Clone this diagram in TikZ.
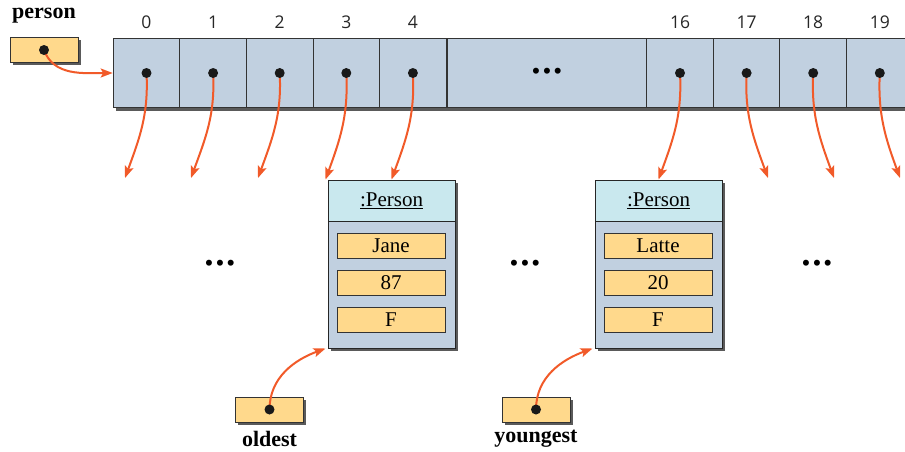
\documentclass[tikz,border=0pt]{standalone}
\usepackage{fontspec}
\setmainfont{Liberation Serif}
\newfontfamily\idxfont{Open Sans}
\newfontfamily\dotfont{DejaVu Sans}
\usetikzlibrary{arrows.meta,shadows}

\definecolor{slotblue}{HTML}{C1D0E0}
\definecolor{headcyan}{HTML}{C9E8EE}
\definecolor{fieldorange}{HTML}{FFD98C}
\definecolor{ptrred}{HTML}{F15A29}
\definecolor{shadegrey}{HTML}{5A5A5A}

\begin{document}
\begin{tikzpicture}[x=1pt,y=-1pt,
  cell/.style={draw=black!80,fill=slotblue,line width=1pt,minimum width=66.6pt,minimum height=69pt,inner sep=0pt},
  idx/.style={font=\idxfont\fontsize{17.5}{20}\selectfont,text=black!85},
  ptr/.style={draw=ptrred,line width=2pt,-{Stealth[length=12pt,width=9pt,inset=2.5pt]}},
  shade/.style={general shadow={fill=shadegrey,shadow xshift=2.5pt,shadow yshift=-2.5pt}},
  objbody/.style={draw=black!85,fill=slotblue,line width=1pt,minimum width=127pt,minimum height=168pt,inner sep=0pt,shade},
  objhead/.style={draw=black!85,fill=headcyan,line width=1pt,minimum width=127pt,minimum height=41pt,inner sep=0pt,font=\fontsize{21}{24}\selectfont},
  field/.style={draw=black!80,fill=fieldorange,line width=1pt,minimum width=108pt,minimum height=25pt,inner sep=0pt,font=\fontsize{21}{24}\selectfont},
  refbox/.style={draw=black!80,fill=fieldorange,line width=1pt,minimum width=68pt,minimum height=25pt,inner sep=0pt,shade},
  varname/.style={font=\fontsize{22}{25}\selectfont\bfseries},
  more/.style={font=\dotfont\bfseries\fontsize{17}{20}\selectfont}]
  \useasboundingbox (0,0) rectangle (905,451);

  % the array of references
  \fill[shadegrey] (116,106) rectangle (912,111);
  \foreach \i in {0,...,4} {
    \node[cell] (c\i) at ({146.5+66.6*\i},73) {};
    \node[idx] (l\i) at (c\i.center |- 0,22) {\i};
  }
  \node[cell,minimum width=200pt] (cmid) at (547,73) {};
  \node[more] (amore) at (cmid) {•••};
  \foreach \i [count=\k from 0] in {16,...,19} {
    \node[cell] (c\i) at ({680+66.6*\k},73) {};
    \node[idx] (l\i) at (c\i.center |- 0,22) {\i};
  }

  % the referenced objects
  \node[objbody] (jane) at (391.5,264) {};
  \node[objhead,anchor=north] (janehd) at (jane.north) {\underline{:Person}};
  \node[field] (janename) at (391,245.5) {Jane};
  \node[field] (janeage) at (391,282.5) {87};
  \node[field] (janesex) at (391,319.5) {F};

  \node[objbody] (latte) at (658.5,264) {};
  \node[objhead,anchor=north] (lattehd) at (latte.north) {\underline{:Person}};
  \node[field] (lattename) at (658,245.5) {Latte};
  \node[field] (latteage) at (658,282.5) {20};
  \node[field] (lattesex) at (658,319.5) {F};

  \node[more] (m1) at (220,265) {•••};
  \node[more] (m2) at (525,265) {•••};
  \node[more] (m3) at (817,265) {•••};

  % reference variables
  \node[refbox] (person) at (44,50) {};
  \node[varname] (personlbl) at (44,16) {person};
  \node[refbox] (oldest) at (269.5,409.5) {};
  \node[varname] (oldestlbl) at (269.5,439) {oldest};
  \node[refbox] (youngest) at (536,409.5) {};
  \node[varname] (youngestlbl) at (536,439) {youngest};

  % dangling pointers
  \foreach \i/\ex in {0/125,1/191,2/258}
    \coordinate (e\i) at (\ex,178);
  \foreach \i/\ex in {17/768,18/834,19/900}
    \coordinate (e\i) at (\ex,178);

  \foreach \i in {0,1,2}
    \draw[ptr] (c\i.center) to[out=-87,in=70] (e\i);
  \foreach \i in {17,18,19}
    \draw[ptr] (c\i.center) to[out=-93,in=110] (e\i);
  \draw[ptr] (c3.center) to[out=-87,in=70] ([xshift=-2pt]jane.north west);
  \draw[ptr] (c4.center) to[out=-87,in=70] (jane.north);
  \draw[ptr] (c16.center) to[out=-87,in=70] (latte.north);
  \draw[ptr] (person.center) to[out=-70,in=180] (c0.west);
  \draw[ptr] (oldest.center) to[out=90,in=200] ([xshift=-2pt]jane.south west);
  \draw[ptr] (youngest.center) to[out=90,in=200] ([xshift=-2pt]latte.south west);

  % the dots on top
  \foreach \n in {c0,c1,c2,c3,c4,c16,c17,c18,c19,person,oldest,youngest}
    \fill[black!90] (\n.center) circle (5);
\end{tikzpicture}
\end{document}
